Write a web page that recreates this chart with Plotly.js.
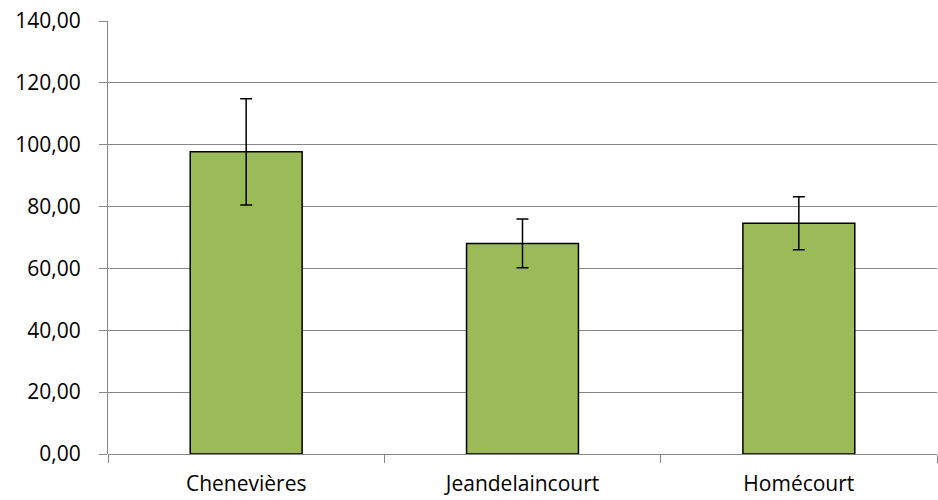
<!DOCTYPE html>
<html><head><meta charset="utf-8">
<script src="https://cdn.plot.ly/plotly-3.0.1.min.js"></script>
<style>html,body{margin:0;padding:0;background:#fff}#c{width:938px;height:500px}</style>
</head><body><div id="c"></div>
<script>
var categories = ["Chenevières", "Jeandelaincourt", "Homécourt"];
var values = [97.7, 68.1, 74.6];
var errors = [17.2, 7.9, 8.6];
var yTicks = [0, 20, 40, 60, 80, 100, 120, 140];

var trace = {
  type: "bar", x: categories, y: values,
  marker: {color: "#9BBB59", line: {color: "#000000", width: 1.5}},
  error_y: {type: "data", array: errors, visible: true, color: "#000000", thickness: 1.5, width: 6},
  width: 0.405, hoverinfo: "none"
};
var layout = {
  width: 938, height: 500,
  margin: {l: 108, r: 1, t: 21, b: 46},
  paper_bgcolor: "#fff", plot_bgcolor: "#fff",
  separators: ", ",
  font: {family: "Open Sans, Liberation Sans, sans-serif", size: 21, color: "#000"},
  showlegend: false,
  xaxis: {
    showline: false, showgrid: false, ticks: "outside", tickson: "boundaries",
    ticklen: 8, tickcolor: "#868686", tickwidth: 1,
    tickfont: {size: 21}, zeroline: false, ticklabelstandoff: 15
  },
  yaxis: {
    range: [0, 140], tickvals: yTicks, tickformat: ".2f",
    showline: true, linecolor: "#868686", linewidth: 1,
    ticks: "outside", ticklen: 8, tickcolor: "#868686",
    showgrid: true, gridcolor: "#868686", gridwidth: 1,
    zeroline: true, zerolinecolor: "#868686", zerolinewidth: 1,
    tickfont: {size: 21}, ticklabelstandoff: 14
  }
};
Plotly.newPlot("c", [trace], layout, {displayModeBar: false, staticPlot: true});
</script></body></html>
